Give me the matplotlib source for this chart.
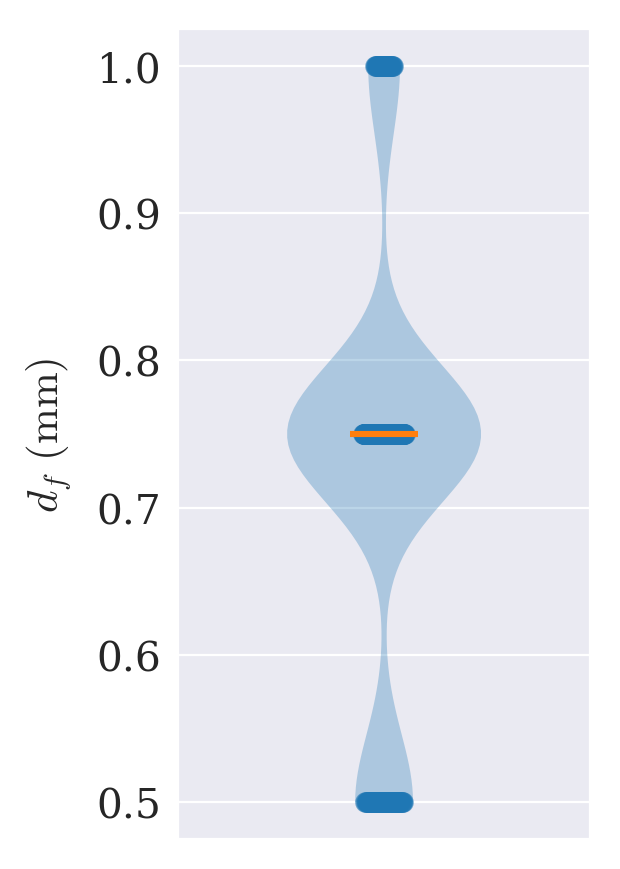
import numpy as np
import matplotlib
matplotlib.use('Agg')
import matplotlib.pyplot as plt
import seaborn as sns

# distinct values of d_f and how many samples sit at each
levels = [0.5, 0.75, 1.0]
counts = [51, 171, 28]
# horizontal spread of the jittered points per level
spread = [0.046, 0.05, 0.022]

data = np.repeat(levels, counts)

sns.set_style('darkgrid')
plt.rcParams['font.family'] = 'serif'
plt.rcParams['font.serif'] = ['DejaVu Serif']
plt.rcParams['mathtext.fontset'] = 'cm'

fig = plt.figure(figsize=(3.1, 4.35), dpi=200)
ax = fig.add_axes([0.287, 0.0345, 0.665, 0.931])

parts = ax.violinplot([data], positions=[1], widths=0.47,
                      showextrema=False, showmedians=False)
for b in parts['bodies']:
    b.set_facecolor('C0')
    b.set_edgecolor('none')
    b.set_alpha(0.3)

xs = []
for lv, n, sp in zip(levels, counts, spread):
    xs.append(1 + np.linspace(-sp, sp, n))
ax.scatter(np.concatenate(xs), data, s=55, color='C0', alpha=0.6,
           linewidths=0, zorder=3)

med = np.median(data)
ax.hlines(med, 1 - 0.083, 1 + 0.083, color='C1', lw=2.2, zorder=4)

ax.set_xlim(0.5, 1.5)
ax.set_ylim(0.475, 1.025)
ax.set_xticks([])
ax.set_yticks([0.5, 0.6, 0.7, 0.8, 0.9, 1.0])
ax.tick_params(axis='y', labelsize=14.7, length=0, pad=6)
ax.set_ylabel(r'$d_f\ (\mathrm{mm})$', fontsize=15.5, labelpad=8)

fig.savefig('out.png', dpi=200)
